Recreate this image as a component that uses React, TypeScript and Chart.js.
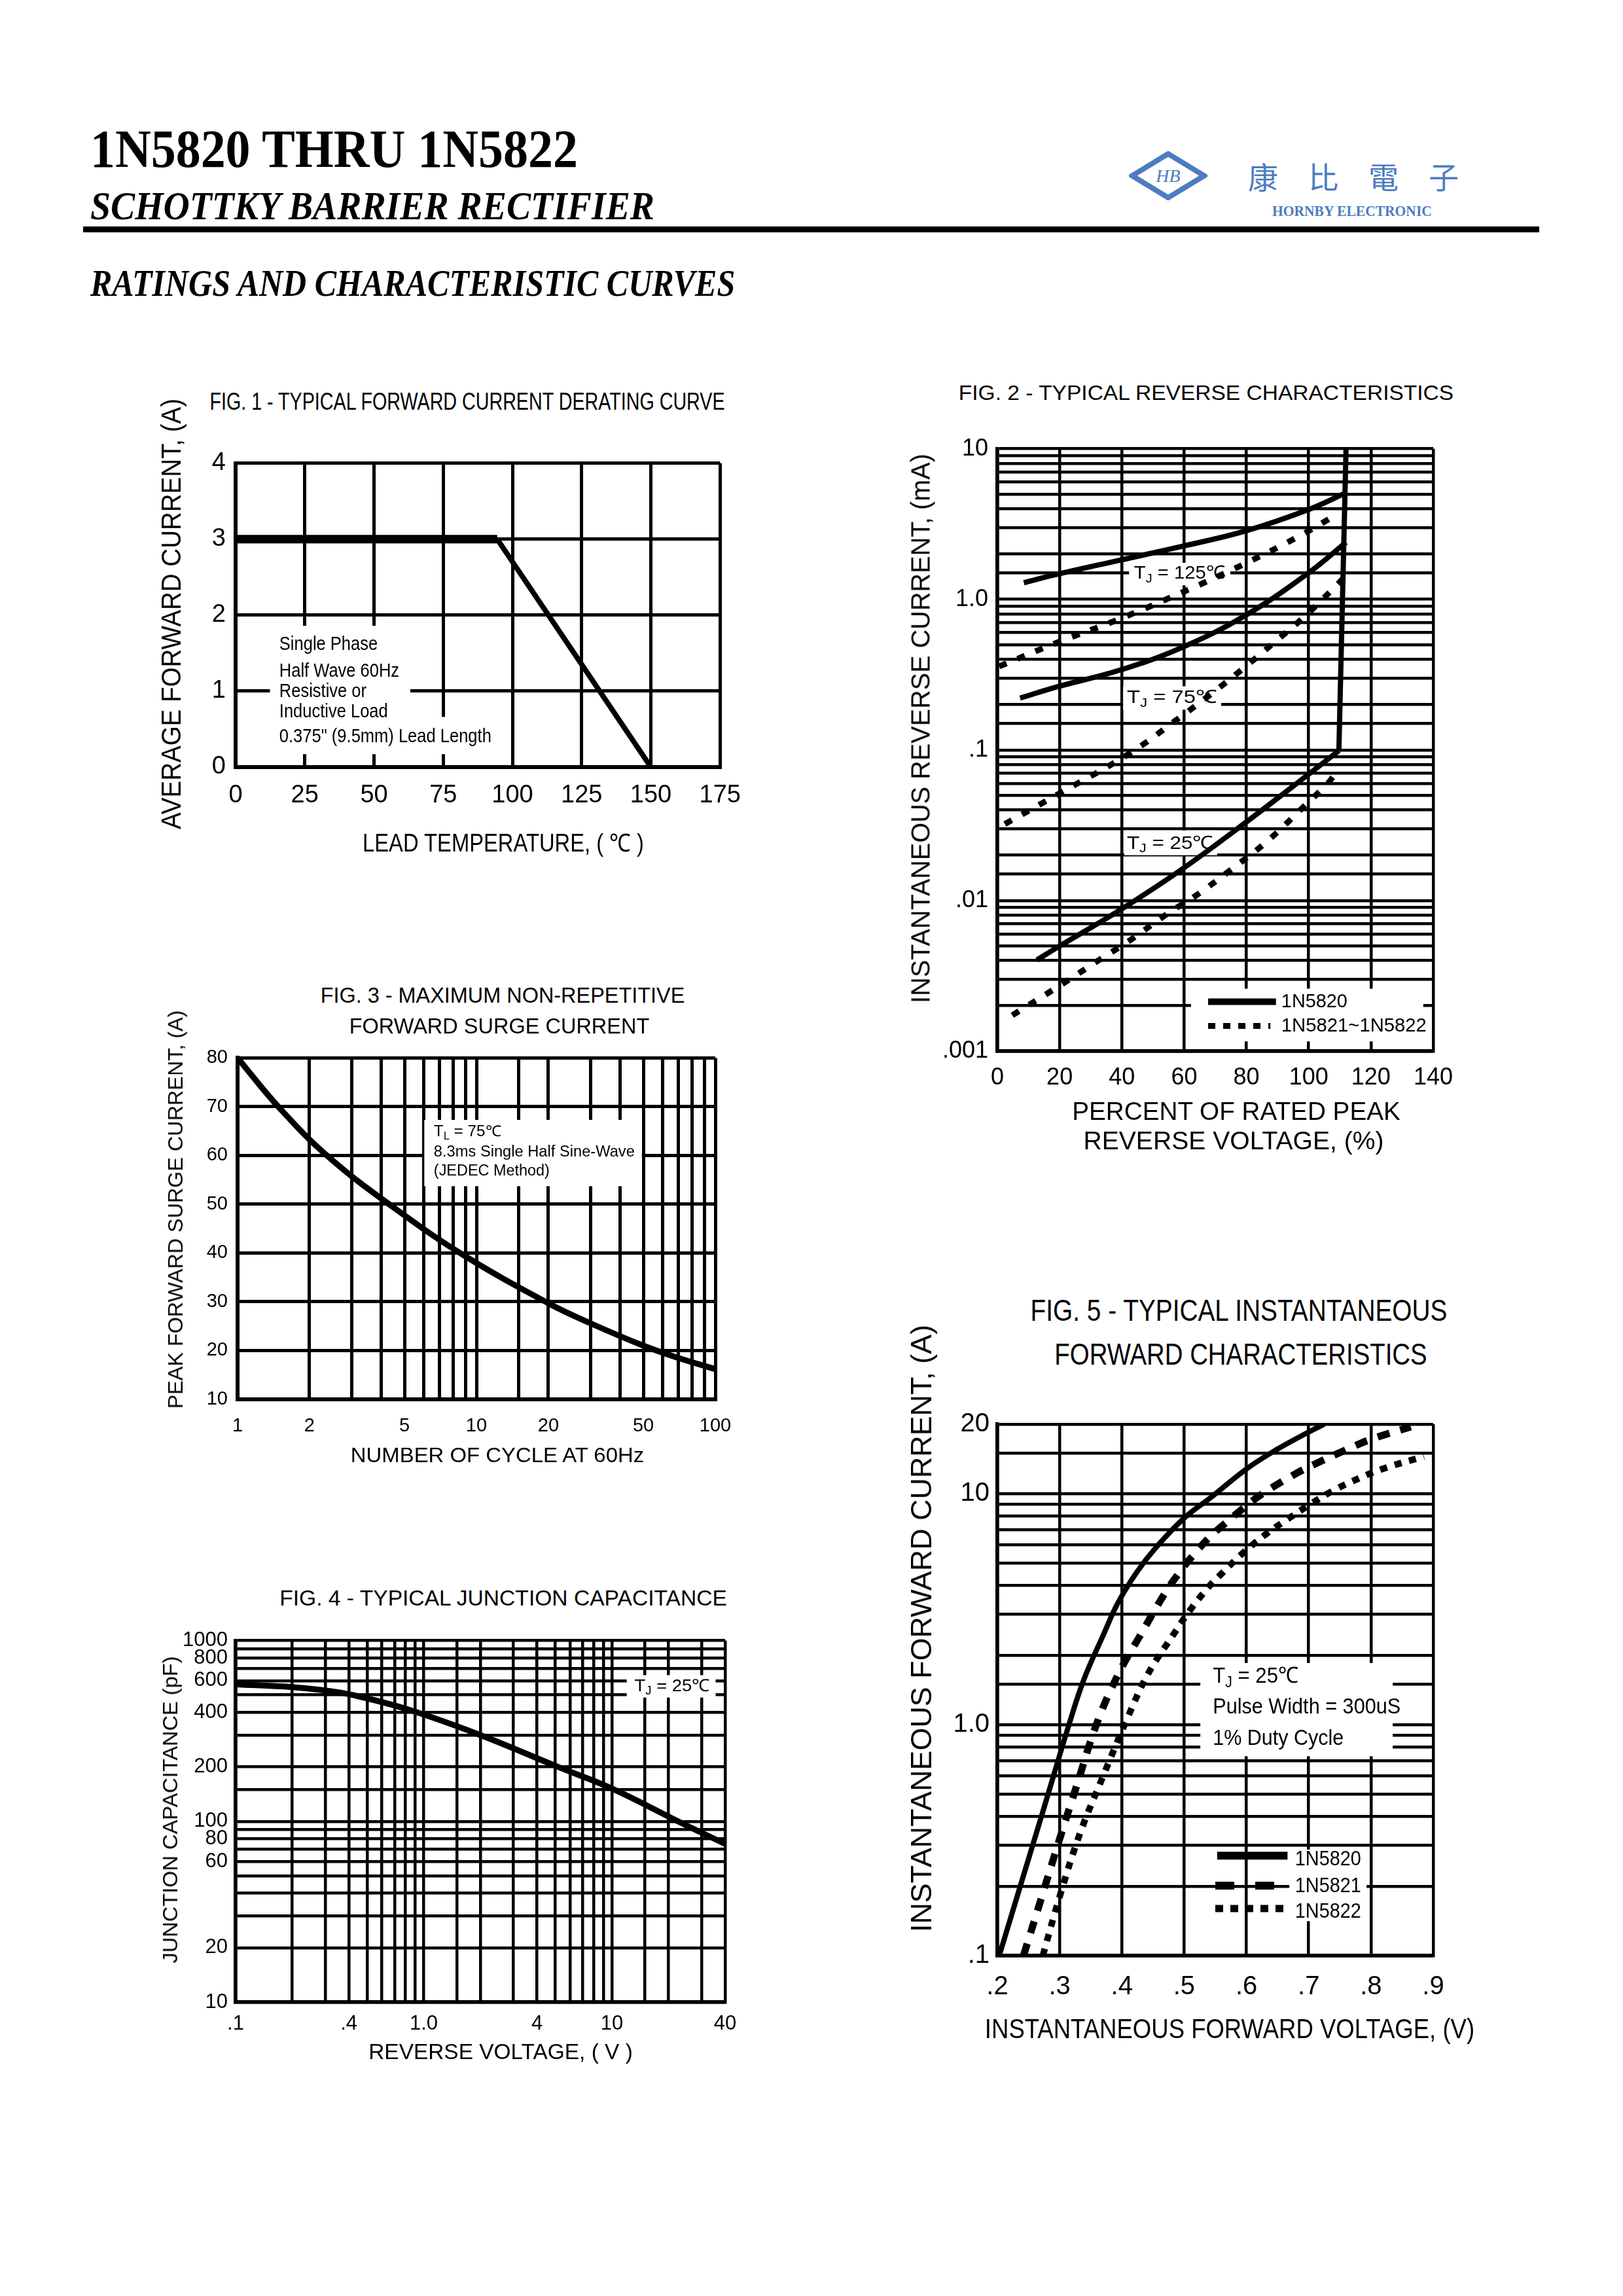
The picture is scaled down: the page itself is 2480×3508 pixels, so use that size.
import React, { useEffect, useLayoutEffect, useRef, useState } from 'react';
import { Chart, registerables } from 'chart.js';

Chart.register(...registerables);

/* ======================= DATA ======================= */
// FIG. 1 - forward current derating
const fig1XTicks = [0, 25, 50, 75, 100, 125, 150, 175];
const fig1YTicks = [0, 1, 2, 3, 4];
const fig1FlatTempC = [0, 94.5];
const fig1FlatCurrentA = [3, 3];
const fig1DerateTempC = [94.5, 150];
const fig1DerateCurrentA = [3, 0];

// FIG. 2 - reverse characteristics
const fig2XTicks = [0, 20, 40, 60, 80, 100, 120, 140];
const fig2YLabelValues = [10, 1, 0.1, 0.01, 0.001];
const fig2YLabelTexts = ['10', '1.0', '.1', '.01', '.001'];
const fig2Solid125Pct = [8.5, 19.4, 39.4, 59.4, 79.6, 100, 112];
const fig2Solid125mA = [1.29, 1.47, 1.82, 2.25, 2.84, 3.95, 5.1];
const fig2Solid75Pct = [7.3, 19.4, 39.4, 59.4, 79.6, 100, 112];
const fig2Solid75mA = [0.221, 0.263, 0.339, 0.48, 0.78, 1.5, 2.39];
const fig2Solid25Pct = [12.7, 19.4, 39.4, 59.4, 79.6, 100, 109.7];
const fig2Solid25mA = [0.00403, 0.0049, 0.00865, 0.0162, 0.0328, 0.069, 0.099];
const fig2BreakdownPct = [109.7, 112];
const fig2BreakdownmA = [0.099, 10];
const fig2Dot125Pct = [0.6, 19.4, 38.8, 61.8, 79.4, 97, 109];
const fig2Dot125mA = [0.359, 0.518, 0.734, 1.17, 1.72, 2.63, 3.66];
const fig2Dot75Pct = [2.4, 20, 42.4, 58.2, 68.5, 78.8, 88.5, 97.6, 107.3, 112];
const fig2Dot75mA = [0.0322, 0.0515, 0.0946, 0.162, 0.234, 0.345, 0.508, 0.734, 1.145, 1.44];
const fig2Dot25Pct = [4.8, 20, 34.5, 41.8, 55.8, 63, 77, 87.3, 99.4, 105.5, 108.5];
const fig2Dot25mA = [0.00173, 0.00272, 0.00426, 0.0053, 0.0085, 0.0105, 0.0172, 0.0254, 0.044, 0.058, 0.069];

// FIG. 3 - surge current
const fig3XLabelValues = [1, 2, 5, 10, 20, 50, 100];
const fig3XLabelTexts = ['1', '2', '5', '10', '20', '50', '100'];
const fig3YTicks = [10, 20, 30, 40, 50, 60, 70, 80];
const fig3Cycles = [1, 1.5, 2.43, 4.57, 8.87, 20, 30, 50, 70, 100];
const fig3SurgeA = [80, 69.7, 59.5, 49.1, 39.5, 29.7, 25.6, 21.0, 18.5, 16.2];

// FIG. 4 - junction capacitance
const fig4XLabelValues = [0.1, 0.4, 1, 4, 10, 40];
const fig4XLabelTexts = ['.1', '.4', '1.0', '4', '10', '40'];
const fig4YLabelValues = [1000, 800, 600, 400, 200, 100, 80, 60, 20, 10];
const fig4YLabelTexts = ['1000', '800', '600', '400', '200', '100', '80', '60', '20', '10'];
const fig4VoltageV = [0.1, 0.2, 0.3, 0.426, 0.824, 1.97, 5.18, 10, 23.9, 40];
const fig4CapacitancePF = [573, 553, 530, 498, 416, 302, 200, 152, 97, 75];

// FIG. 5 - forward characteristics
const fig5XTicks = [0.2, 0.3, 0.4, 0.5, 0.6, 0.7, 0.8, 0.9];
const fig5XLabelTexts = ['.2', '.3', '.4', '.5', '.6', '.7', '.8', '.9'];
const fig5YLabelValues = [20, 10, 1, 0.1];
const fig5YLabelTexts = ['20', '10', '1.0', '.1'];
const fig5N5820V = [0.203, 0.233, 0.273, 0.315, 0.339, 0.37, 0.394, 0.424, 0.455, 0.5, 0.545, 0.6, 0.648, 0.7, 0.725];
const fig5N5820A = [0.1, 0.185, 0.42, 1.0, 1.57, 2.44, 3.38, 4.58, 5.86, 7.84, 9.74, 12.8, 15.5, 18.5, 20];
const fig5N5821V = [0.242, 0.27, 0.3, 0.327, 0.359, 0.394, 0.43, 0.47, 0.494, 0.515, 0.542, 0.567, 0.597, 0.624, 0.679, 0.709, 0.767, 0.8, 0.864];
const fig5N5821A = [0.1, 0.175, 0.32, 0.54, 1.0, 1.65, 2.45, 3.74, 4.62, 5.44, 6.53, 7.49, 8.74, 9.93, 12.2, 13.4, 15.8, 17.2, 19.5];
const fig5N5822V = [0.273, 0.3, 0.333, 0.37, 0.409, 0.442, 0.482, 0.509, 0.539, 0.558, 0.591, 0.63, 0.661, 0.703, 0.739, 0.782, 0.818, 0.885];
const fig5N5822A = [0.1, 0.18, 0.34, 0.6, 1.07, 1.66, 2.44, 3.12, 3.94, 4.45, 5.43, 6.64, 7.6, 9.02, 10.3, 11.7, 12.8, 14.5];

/* ======================= STYLE / LAYOUT ======================= */
const FONT = "'Liberation Sans', Arial, Helvetica, sans-serif";
const NARROW = "'Liberation Sans Narrow', 'Arial Narrow', 'Liberation Sans', Arial, sans-serif";
const SERIF = "'Liberation Serif', 'Times New Roman', serif";
const CJK = "'Noto Sans CJK TC', 'Noto Sans CJK SC', sans-serif";
const BLUE = '#4d7cc0';

const YW = 150, PT = 30, PR = 50, XH = 100;
type Rect = { L: number; T: number; R: number; B: number };
const R1: Rect = { L: 360, T: 700, R: 1103, B: 1172 };
const R2: Rect = { L: 1524, T: 680, R: 2190, B: 1606 };
const R3: Rect = { L: 363, T: 1614, R: 1093, B: 2138 };
const R4: Rect = { L: 360, T: 2506, R: 1108, B: 3059 };
const R5: Rect = { L: 1524, T: 2170, R: 2190, B: 2988 };

type Part = { t: string; sub?: boolean };
type Note = { x: number; y: number; parts: Part[]; size: number; w?: number; sx?: number };
type Mask = { x0: number; x1: number; y0: number; y1: number };
type Key = { x0: number; x1: number; y: number; lw: number; dash: number[] };

const txt = (t: string): Part[] => [{ t }];
const withSub = (s: string, rest: string): Part[] => [{ t: 'T' }, { t: s, sub: true }, { t: rest }];

function drawParts(ctx: CanvasRenderingContext2D, n: Note, px: number, py: number) {
  const sub = n.size * 0.68;
  const fonts = n.parts.map((p) => `${p.sub ? sub : n.size}px ${FONT}`);
  const widths = n.parts.map((p, i) => {
    ctx.font = fonts[i];
    return ctx.measureText(p.t).width;
  });
  const total = widths.reduce((a, b) => a + b, 0);
  const s = n.w ? n.w / total : n.sx ?? 1;
  ctx.save();
  ctx.translate(px, py);
  ctx.scale(s, 1);
  ctx.fillStyle = '#000';
  ctx.textAlign = 'left';
  ctx.textBaseline = 'middle';
  let cx = 0;
  n.parts.forEach((p, i) => {
    ctx.font = fonts[i];
    ctx.fillText(p.t, cx, p.sub ? n.size * 0.3 : 0);
    cx += widths[i];
  });
  ctx.restore();
}

function notesPlugin(id: string, masks: Mask[], notes: Note[], keys: Key[]) {
  return {
    id,
    beforeDatasetsDraw(chart: any) {
      const ctx = chart.ctx as CanvasRenderingContext2D;
      const xs = chart.scales.x, ys = chart.scales.y;
      ctx.save();
      ctx.fillStyle = '#fff';
      masks.forEach((m) => {
        const a = xs.getPixelForValue(m.x0), b = xs.getPixelForValue(m.x1);
        const c = ys.getPixelForValue(m.y0), d = ys.getPixelForValue(m.y1);
        ctx.fillRect(Math.min(a, b), Math.min(c, d), Math.abs(b - a), Math.abs(d - c));
      });
      ctx.restore();
      notes.forEach((n) => drawParts(ctx, n, xs.getPixelForValue(n.x), ys.getPixelForValue(n.y)));
    },
    afterDatasetsDraw(chart: any) {
      const ctx = chart.ctx as CanvasRenderingContext2D;
      const xs = chart.scales.x, ys = chart.scales.y;
      keys.forEach((k) => {
        ctx.save();
        ctx.strokeStyle = '#000';
        ctx.lineWidth = k.lw;
        ctx.lineCap = 'butt';
        ctx.setLineDash(k.dash);
        const py = ys.getPixelForValue(k.y);
        ctx.beginPath();
        ctx.moveTo(xs.getPixelForValue(k.x0), py);
        ctx.lineTo(xs.getPixelForValue(k.x1), py);
        ctx.stroke();
        ctx.restore();
      });
    },
  };
}

function labelFor(values: number[], texts: string[]) {
  return (v: number | string) => {
    const n = Number(v);
    for (let i = 0; i < values.length; i++) {
      if (Math.abs(n - values[i]) <= Math.abs(values[i]) * 1e-6) return texts[i];
    }
    return '';
  };
}

type AxisOpt = {
  type: 'linear' | 'logarithmic';
  min: number;
  max: number;
  lw: number;
  family: string;
  size: number;
  pad: number;
  ticks?: number[];
  label: (v: number | string) => string;
};

function axis(o: AxisOpt) {
  const a: any = {
    type: o.type,
    min: o.min,
    max: o.max,
    grid: { color: '#000', lineWidth: o.lw, drawTicks: false },
    border: { display: true, color: '#000', width: o.lw + 1 },
    ticks: {
      color: '#000',
      padding: o.pad,
      autoSkip: false,
      maxRotation: 0,
      minRotation: 0,
      font: { family: o.family, size: o.size },
      callback: o.label,
    },
  };
  if (o.ticks) {
    const list = o.ticks;
    a.afterBuildTicks = (s: any) => {
      s.ticks = list.map((v) => ({ value: v }));
    };
  }
  return a;
}

function curve(xs: number[], ys: number[], lw: number, dash: number[] = [], smooth = true) {
  return {
    data: xs.map((v, i) => ({ x: v, y: ys[i] })),
    borderColor: '#000',
    borderWidth: lw,
    borderDash: dash,
    borderCapStyle: 'butt',
    borderJoinStyle: 'round',
    pointRadius: 0,
    pointHoverRadius: 0,
    fill: false,
    tension: smooth ? 0.4 : 0,
    cubicInterpolationMode: 'default',
  };
}

function config(datasets: any[], x: any, y: any, plugin: any) {
  return {
    type: 'line',
    data: { datasets },
    options: {
      responsive: false,
      maintainAspectRatio: false,
      animation: false,
      devicePixelRatio: 1,
      events: [],
      layout: { padding: { left: 0, top: PT, right: PR, bottom: 0 } },
      plugins: { legend: { display: false }, tooltip: { enabled: false } },
      scales: {
        x: { ...x, position: 'bottom', afterFit: (s: any) => { s.height = XH; } },
        y: { ...y, position: 'left', afterFit: (s: any) => { s.width = YW; } },
      },
    },
    plugins: [plugin],
  };
}

/* ======================= FIGURE BUILDERS ======================= */
const plainNum = (v: number | string) => String(v);

function buildFig1() {
  const x = axis({ type: 'linear', min: 0, max: 175, lw: 5, family: NARROW, size: 38, pad: 21, ticks: fig1XTicks, label: plainNum });
  const y = axis({ type: 'linear', min: 0, max: 4, lw: 5, family: NARROW, size: 38, pad: 15, ticks: fig1YTicks, label: plainNum });
  const plugin = notesPlugin(
    'fig1notes',
    [
      { x0: 12.4, x1: 63.1, y0: 0.56, y1: 1.86 },
      { x0: 12.4, x1: 93, y0: 0.17, y1: 0.66 },
    ],
    [
      { x: 15.8, y: 1.61, parts: txt('Single Phase'), size: 30, sx: 0.85 },
      { x: 15.8, y: 1.26, parts: txt('Half Wave 60Hz'), size: 30, sx: 0.85 },
      { x: 15.8, y: 0.99, parts: txt('Resistive or'), size: 30, sx: 0.85 },
      { x: 15.8, y: 0.73, parts: txt('Inductive Load'), size: 30, sx: 0.85 },
      { x: 15.8, y: 0.4, parts: txt('0.375" (9.5mm) Lead Length'), size: 30, w: 324 },
    ],
    []
  );
  return config(
    [
      curve(fig1FlatTempC, fig1FlatCurrentA, 13, [], false),
      curve(fig1DerateTempC, fig1DerateCurrentA, 8, [], false),
    ],
    x,
    y,
    plugin
  );
}

function buildFig2() {
  const x = axis({ type: 'linear', min: 0, max: 140, lw: 4.5, family: FONT, size: 36, pad: 19, ticks: fig2XTicks, label: plainNum });
  const y = axis({ type: 'logarithmic', min: 0.001, max: 10, lw: 4.5, family: FONT, size: 36, pad: 14, label: labelFor(fig2YLabelValues, fig2YLabelTexts) });
  const dot = [12, 18];
  const plugin = notesPlugin(
    'fig2notes',
    [
      { x0: 42.3, x1: 74.8, y0: 1.24, y1: 1.75 },
      { x0: 40.4, x1: 71.9, y0: 0.185, y1: 0.265 },
      { x0: 40.8, x1: 70.6, y0: 0.02, y1: 0.0292 },
      { x0: 62.2, x1: 136.8, y0: 0.00116, y1: 0.0026 },
    ],
    [
      { x: 43.9, y: 1.48, parts: withSub('J', ' = 125℃'), size: 28, w: 139 },
      { x: 41.6, y: 0.222, parts: withSub('J', ' = 75℃'), size: 28, w: 138 },
      { x: 41.6, y: 0.0239, parts: withSub('J', ' = 25℃'), size: 28, w: 132 },
      { x: 91.2, y: 0.00213, parts: txt('1N5820'), size: 30, w: 101 },
      { x: 91.2, y: 0.00147, parts: txt('1N5821~1N5822'), size: 30, w: 222 },
    ],
    [
      { x0: 67.7, x1: 89.5, y: 0.00213, lw: 10, dash: [] },
      { x0: 67.7, x1: 87.7, y: 0.00147, lw: 9, dash: [11, 12] },
    ]
  );
  return config(
    [
      curve(fig2Solid125Pct, fig2Solid125mA, 8),
      curve(fig2Solid75Pct, fig2Solid75mA, 8),
      curve(fig2Solid25Pct, fig2Solid25mA, 8),
      curve(fig2BreakdownPct, fig2BreakdownmA, 8, [], false),
      curve(fig2Dot125Pct, fig2Dot125mA, 9, dot),
      curve(fig2Dot75Pct, fig2Dot75mA, 9, dot),
      curve(fig2Dot25Pct, fig2Dot25mA, 9, dot),
    ],
    x,
    y,
    plugin
  );
}

function buildFig3() {
  const x = axis({ type: 'logarithmic', min: 1, max: 100, lw: 5, family: FONT, size: 29, pad: 24, label: labelFor(fig3XLabelValues, fig3XLabelTexts) });
  const y = axis({ type: 'linear', min: 10, max: 80, lw: 5, family: FONT, size: 29, pad: 15, ticks: fig3YTicks, label: plainNum });
  const plugin = notesPlugin(
    'fig3notes',
    [{ x0: 6.05, x1: 49.3, y0: 53.7, y1: 67.3 }],
    [
      { x: 6.63, y: 64.8, parts: withSub('L', ' = 75℃'), size: 23, w: 103 },
      { x: 6.63, y: 60.6, parts: txt('8.3ms Single Half Sine-Wave'), size: 23, w: 307 },
      { x: 6.63, y: 56.8, parts: txt('(JEDEC Method)'), size: 23, w: 177 },
    ],
    []
  );
  return config([curve(fig3Cycles, fig3SurgeA, 9)], x, y, plugin);
}

function buildFig4() {
  const x = axis({ type: 'logarithmic', min: 0.1, max: 40, lw: 4.5, family: FONT, size: 31, pad: 15, label: labelFor(fig4XLabelValues, fig4XLabelTexts) });
  const y = axis({ type: 'logarithmic', min: 10, max: 1000, lw: 4.5, family: FONT, size: 31, pad: 12, label: labelFor(fig4YLabelValues, fig4YLabelTexts) });
  const plugin = notesPlugin(
    'fig4notes',
    [{ x0: 12.0, x1: 35.6, y0: 484, y1: 644 }],
    [{ x: 13.2, y: 559, parts: withSub('J', ' = 25℃'), size: 26, w: 115 }],
    []
  );
  return config([curve(fig4VoltageV, fig4CapacitancePF, 9)], x, y, plugin);
}

function buildFig5() {
  const x = axis({ type: 'linear', min: 0.2, max: 0.9, lw: 4.5, family: NARROW, size: 40, pad: 24, ticks: fig5XTicks, label: labelFor(fig5XTicks, fig5XLabelTexts) });
  const y = axis({ type: 'logarithmic', min: 0.1, max: 20, lw: 4.5, family: NARROW, size: 40, pad: 12, label: labelFor(fig5YLabelValues, fig5YLabelTexts) });
  const plugin = notesPlugin(
    'fig5notes',
    [
      { x0: 0.526, x1: 0.835, y0: 0.73, y1: 1.85 },
      { x0: 0.669, x1: 0.793, y0: 0.141, y1: 0.288 },
    ],
    [
      { x: 0.546, y: 1.62, parts: withSub('J', ' = 25℃'), size: 34, w: 131 },
      { x: 0.546, y: 1.19, parts: txt('Pulse Width = 300uS'), size: 34, w: 287 },
      { x: 0.546, y: 0.87, parts: txt('1% Duty Cycle'), size: 34, w: 200 },
      { x: 0.678, y: 0.26, parts: txt('1N5820'), size: 32, w: 101 },
      { x: 0.678, y: 0.2, parts: txt('1N5821'), size: 32, w: 101 },
      { x: 0.678, y: 0.155, parts: txt('1N5822'), size: 32, w: 101 },
    ],
    [
      { x0: 0.553, x1: 0.666, y: 0.271, lw: 12, dash: [] },
      { x0: 0.55, x1: 0.645, y: 0.201, lw: 12, dash: [29, 32] },
      { x0: 0.55, x1: 0.666, y: 0.16, lw: 11, dash: [12, 11] },
    ]
  );
  return config(
    [
      curve(fig5N5820V, fig5N5820A, 8),
      curve(fig5N5821V, fig5N5821A, 11, [19, 17]),
      curve(fig5N5822V, fig5N5822A, 10, [11, 12]),
    ],
    x,
    y,
    plugin
  );
}

/* ======================= COMPONENTS ======================= */
function ChartBox({ rect, build }: { rect: Rect; build: () => any }) {
  const ref = useRef<HTMLCanvasElement>(null);
  const w = rect.R - rect.L + YW + PR;
  const h = rect.B - rect.T + PT + XH;
  useEffect(() => {
    if (!ref.current) return;
    const chart = new Chart(ref.current, build() as any);
    return () => chart.destroy();
  }, []);
  return (
    <canvas
      ref={ref}
      width={w}
      height={h}
      style={{ position: 'absolute', left: rect.L - YW, top: rect.T - PT, width: w, height: h }}
    />
  );
}

type TextProps = {
  text: string;
  x: number;
  y: number;
  size: number;
  w?: number;
  family?: string;
  bold?: boolean;
  italic?: boolean;
  rotate?: boolean;
  left?: boolean;
  color?: string;
  spacing?: number;
};

function Label(p: TextProps) {
  const ref = useRef<HTMLDivElement>(null);
  const [s, setS] = useState(1);
  useLayoutEffect(() => {
    if (p.w && ref.current) {
      const nat = ref.current.offsetWidth;
      if (nat > 0) setS(p.w / nat);
    }
  }, [p.w]);
  const transform = p.left
    ? `translate(0,-50%) scaleX(${s})`
    : `translate(-50%,-50%)${p.rotate ? ' rotate(-90deg)' : ''} scaleX(${s})`;
  return (
    <div
      ref={ref}
      style={{
        position: 'absolute',
        left: p.x,
        top: p.y,
        fontSize: p.size,
        fontFamily: p.family ?? FONT,
        fontWeight: p.bold ? 700 : 400,
        fontStyle: p.italic ? 'italic' : 'normal',
        color: p.color ?? '#000',
        whiteSpace: 'nowrap',
        lineHeight: 1,
        letterSpacing: p.spacing,
        transform,
        transformOrigin: p.left ? 'left center' : 'center center',
      }}
    >
      {p.text}
    </div>
  );
}

export default function App() {
  return (
    <div style={{ position: 'absolute', left: 0, top: 0, width: 2480, height: 3508, background: '#fff', overflow: 'hidden' }}>
      <ChartBox rect={R1} build={buildFig1} />
      <ChartBox rect={R2} build={buildFig2} />
      <ChartBox rect={R3} build={buildFig3} />
      <ChartBox rect={R4} build={buildFig4} />
      <ChartBox rect={R5} build={buildFig5} />

      {/* header */}
      <Label text="1N5820 THRU 1N5822" x={138} y={228} size={82} w={745} family={SERIF} bold left />
      <Label text="SCHOTTKY BARRIER RECTIFIER" x={138} y={314} size={62} w={862} family={SERIF} bold italic left />
      <div style={{ position: 'absolute', left: 127, top: 346, width: 2225, height: 9, background: '#000' }} />
      <Label text="RATINGS AND CHARACTERISTIC CURVES" x={138} y={433} size={56} w={985} family={SERIF} bold italic left />

      {/* logo */}
      <svg style={{ position: 'absolute', left: 1725, top: 231 }} width={120} height={75} viewBox="0 0 120 75">
        <polygon points="5,37.5 60,4 115,37.5 60,71" fill="none" stroke={BLUE} strokeWidth={8} />
        <text x={60} y={47} textAnchor="middle" fontFamily={SERIF} fontStyle="italic" fontSize={28} fill={BLUE}>HB</text>
      </svg>
      <Label text="康比電子" x={1907} y={268} size={46} family={CJK} color={BLUE} spacing={46} left />
      <Label text="HORNBY ELECTRONIC" x={1944} y={322} size={24} w={244} family={SERIF} bold color={BLUE} left />

      {/* FIG 1 texts */}
      <Label text="FIG. 1 - TYPICAL FORWARD CURRENT DERATING CURVE" x={714} y={614} size={36} w={787} />
      <Label text="AVERAGE FORWARD CURRENT, (A)" x={262} y={938} size={42} w={658} rotate />
      <Label text="LEAD TEMPERATURE, ( ℃ )" x={769} y={1288} size={38} w={430} />

      {/* FIG 2 texts */}
      <Label text="FIG. 2 - TYPICAL REVERSE CHARACTERISTICS" x={1843} y={600} size={31} w={756} />
      <Label text="INSTANTANEOUS REVERSE CURRENT, (mA)" x={1407} y={1113} size={41} w={840} rotate />
      <Label text="PERCENT OF RATED PEAK" x={1889} y={1697} size={39} w={502} />
      <Label text="REVERSE VOLTAGE, (%)" x={1885} y={1742} size={39} w={459} />

      {/* FIG 3 texts */}
      <Label text="FIG. 3 - MAXIMUM NON-REPETITIVE" x={768} y={1520} size={33} w={557} />
      <Label text="FORWARD SURGE CURRENT" x={763} y={1567} size={33} w={459} />
      <Label text="PEAK FORWARD SURGE CURRENT, (A)" x={268} y={1848} size={32} w={609} rotate />
      <Label text="NUMBER OF CYCLE AT 60Hz" x={760} y={2223} size={32} w={448} />

      {/* FIG 4 texts */}
      <Label text="FIG. 4 - TYPICAL JUNCTION CAPACITANCE" x={769} y={2441} size={33} w={684} />
      <Label text="JUNCTION CAPACITANCE (pF)" x={260} y={2765} size={32} w={469} rotate />
      <Label text="REVERSE VOLTAGE, ( V )" x={765} y={3134} size={33} w={404} />

      {/* FIG 5 texts */}
      <Label text="FIG. 5 - TYPICAL INSTANTANEOUS" x={1893} y={2002} size={46} w={637} />
      <Label text="FORWARD CHARACTERISTICS" x={1896} y={2069} size={46} w={569} />
      <Label text="INSTANTANEOUS FORWARD CURRENT, (A)" x={1408} y={2488} size={44} w={928} rotate />
      <Label text="INSTANTANEOUS FORWARD VOLTAGE, (V)" x={1879} y={3100} size={42} w={748} />
    </div>
  );
}
